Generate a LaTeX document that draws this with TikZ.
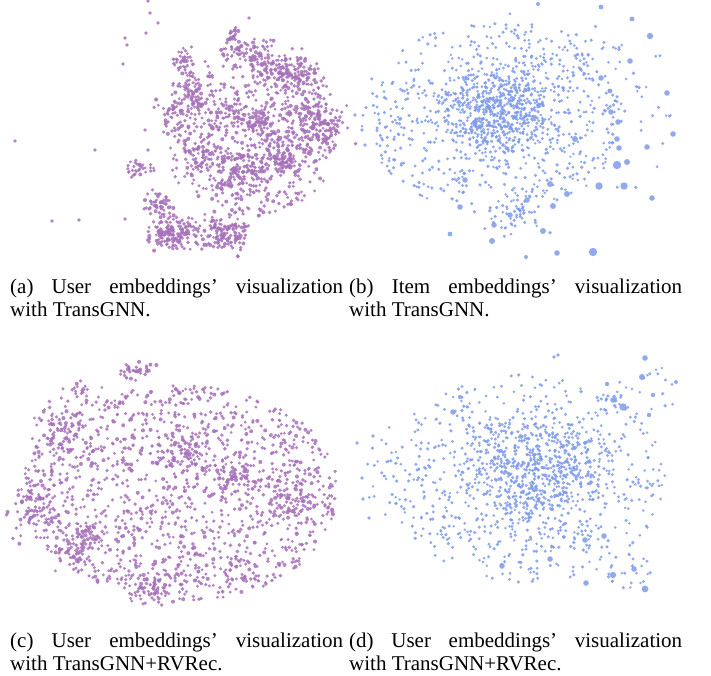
\documentclass[tikz,border=0pt]{standalone}
\usepackage{fontspec}
\setmainfont{Liberation Serif}
\definecolor{upurple}{HTML}{A671B9}
\definecolor{iblue}{HTML}{7F9BE8}
\tikzset{
  pdot/.style={fill=upurple,opacity=0.85},
  bdot/.style={fill=iblue,opacity=0.85},
  capbox/.style={anchor=base west,inner sep=0pt,text width=333pt,align=justify,
    font=\fontsize{21}{23}\selectfont}
}
% gaussian-like cluster: cx cy sx sy n style radius
\newcommand\gblob[7]{%
  \foreach \k in {1,...,#5}{%
    \pgfmathsetmacro\px{#1+#3*(rand+rand+rand)}%
    \pgfmathsetmacro\py{#2+#4*(rand+rand+rand)}%
    \pgfmathsetmacro\rd{#7*(0.85+0.3*rnd)}%
    \fill[#6] (\px,\py) circle[radius=\rd pt];
  }}
% uniform ellipse: cx cy a b n style radius
\newcommand\ublob[7]{%
  \foreach \k in {1,...,#5}{%
    \pgfmathsetmacro\rr{sqrt(rnd)}%
    \pgfmathsetmacro\th{360*rnd}%
    \pgfmathsetmacro\px{#1+#3*\rr*cos(\th)}%
    \pgfmathsetmacro\py{#2+#4*\rr*sin(\th)}%
    \pgfmathsetmacro\rd{#7*(0.85+0.3*rnd)}%
    \fill[#6] (\px,\py) circle[radius=\rd pt];
  }}
\begin{document}
\begin{tikzpicture}[x=1pt,y=-1pt]
\useasboundingbox (0,0) rectangle (711,675);
\pgfmathsetseed{4242}
% ---------------- panel (a)
\ublob{258}{128}{82}{88}{420}{pdot}{1.8}
\ublob{190}{125}{28}{65}{100}{pdot}{1.8}
\gblob{172}{232}{11}{9}{150}{pdot}{1.8}
\gblob{224}{232}{13}{9}{150}{pdot}{1.8}
\gblob{159}{203}{7}{6}{45}{pdot}{1.8}
\gblob{138}{168}{7}{4}{32}{pdot}{1.8}
\gblob{237}{172}{15}{13}{170}{pdot}{1.8}
\gblob{281}{158}{14}{9}{110}{pdot}{1.8}
\gblob{314}{124}{15}{13}{180}{pdot}{1.8}
\gblob{258}{123}{10}{9}{80}{pdot}{1.8}
\gblob{277}{72}{15}{10}{110}{pdot}{1.8}
\gblob{247}{53}{12}{6}{65}{pdot}{1.8}
\gblob{233}{36}{4}{5}{25}{pdot}{1.8}
\gblob{182}{62}{6}{6}{35}{pdot}{1.8}
\gblob{190}{95}{6}{14}{55}{pdot}{1.8}
\gblob{203}{157}{7}{7}{40}{pdot}{1.8}
\gblob{228}{107}{7}{9}{40}{pdot}{1.8}
\gblob{301}{78}{9}{7}{55}{pdot}{1.8}
\gblob{170}{112}{8}{8}{30}{pdot}{1.8}
\foreach \x/\y in {148/1,150/13,158/23,146/33,125/38,127/45,123/64,15/141,95/150,52/221,79/220,125/219,249/18,145/130,148/150}
  \fill[pdot] (\x,\y) circle[radius=1.8pt];
% ---------------- panel (b)
\gblob{497}{112}{30}{22}{650}{bdot}{1.6}
\ublob{495}{118}{128}{98}{520}{bdot}{1.6}
\gblob{515}{215}{15}{12}{60}{bdot}{1.6}
\gblob{560}{60}{30}{20}{70}{bdot}{1.6}
\ublob{625}{110}{50}{80}{35}{bdot}{1.6}
\gblob{395}{120}{15}{25}{40}{bdot}{1.6}
\foreach \x/\y/\r in {617/165/4.2,599/186/3.7,624/186/3.7,593/252/4.2,650/36/3.2,667/93/2.8,673/134/2.8,630/61/2.8,627/162/3,652/198/2.8,550/184/3,567/194/3,575/139/3,553/206/3,543/231/3,510/215/2.8,492/241/3,494/225/2.8,460/207/2.8,465/180/2.8,527/200/2.8,557/253/2.8,526/257/2,450/234/2.4,618/122/2.8,617/139/2.8,611/112/2.8,601/78/2.8,610/91/2.4,647/147/2.8,632/19/2.4,601/7/2.4,538/4/2,619/148/2.8,355/115/1.8,362/130/1.8,365/145/1.8}
  \fill[bdot] (\x,\y) circle[radius=\r pt];
% ---------------- panel (c)
\ublob{181}{493}{160}{108}{1300}{pdot}{1.8}
\gblob{63}{428}{14}{12}{80}{pdot}{1.8}
\gblob{40}{505}{15}{18}{90}{pdot}{1.8}
\gblob{190}{455}{12}{10}{60}{pdot}{1.8}
\gblob{233}{478}{14}{10}{60}{pdot}{1.8}
\gblob{290}{495}{14}{12}{70}{pdot}{1.8}
\gblob{243}{575}{10}{7}{30}{pdot}{1.8}
\gblob{73}{555}{10}{7}{40}{pdot}{1.8}
\gblob{90}{535}{10}{8}{40}{pdot}{1.8}
\gblob{80}{392}{8}{5}{20}{pdot}{1.8}
\gblob{138}{370}{9}{5}{35}{pdot}{1.8}
\gblob{150}{590}{12}{8}{40}{pdot}{1.8}
% ---------------- panel (d)
\gblob{535}{470}{34}{32}{650}{bdot}{1.6}
\ublob{525}{478}{140}{105}{600}{bdot}{1.6}
\ublob{640}{395}{35}{35}{25}{bdot}{1.6}
\ublob{625}{570}{30}{18}{25}{bdot}{1.6}
\ublob{385}{470}{20}{45}{20}{bdot}{1.6}
\foreach \x/\y/\r in {623/407/3.7,642/377/3,645/358/2.8,613/400/2.8,613/575/3.2,645/589/3.4,585/540/2.8,604/536/2.8,502/566/2.8,550/559/2.8,586/583/2.8,634/569/2.8,453/412/2.8,460/397/2.2,676/382/2,653/395/2.2,649/415/2.2,607/384/2.2,558/355/1.8,554/357/1.8,357/443/1.8,362/478/1.8,363/499/1.8,369/518/1.8,373/436/1.8}
  \fill[bdot] (\x,\y) circle[radius=\r pt];
% ---------------- captions
\node[capbox] (capa) at (10,293) {(a) User embeddings' visualization\linebreak with TransGNN.};
\node[capbox] (capb) at (349,293) {(b) Item embeddings' visualization\linebreak with TransGNN.};
\node[capbox] (capc) at (10,647.5) {(c) User embeddings' visualization\linebreak with TransGNN+RVRec.};
\node[capbox] (capd) at (349,647.5) {(d) User embeddings' visualization\linebreak with TransGNN+RVRec.};
\end{tikzpicture}
\end{document}
